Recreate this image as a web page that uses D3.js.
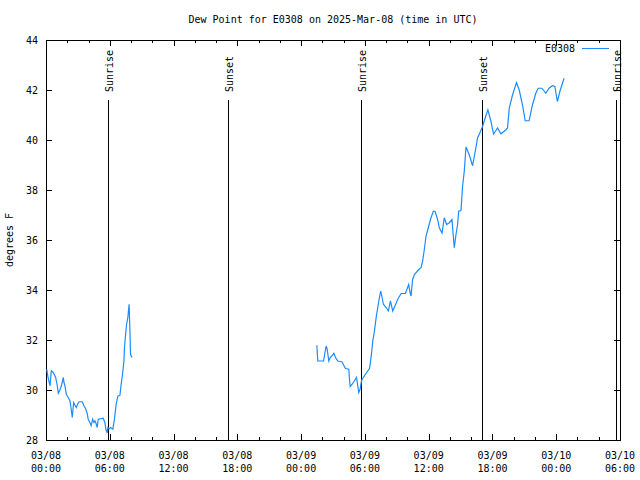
<!DOCTYPE html>
<html>
<head>
<meta charset="utf-8">
<script src="https://cdn.jsdelivr.net/npm/d3@7"></script>
<style>
  html, body { margin: 0; padding: 0; background: #fff; }
  svg { display: block; }
  text { font-family: "DejaVu Sans Mono", "Liberation Mono", monospace; font-size: 10px; fill: #000; }
</style>
</head>
<body>
<svg id="chart" width="640" height="480"></svg>
<script>
// ---- data (hours since 2025-03-08 00:00 UTC, dew point °F) ----
const titleText = "Dew Point for E0308 on 2025-Mar-08 (time in UTC)";
const seriesName = "E0308";
const yLabel = "degrees F";

const hours1 = [0.07,0.19,0.38,0.5,0.69,0.91,1.06,1.16,1.31,1.47,1.63,1.69,1.78,1.91,2.09,2.25,2.38,2.47,2.6,2.72,2.85,2.94,3.1,3.41,3.57,3.73,3.88,3.97,4.13,4.25,4.38,4.51,4.6,4.72,4.82,4.91,5.38,5.54,5.63,5.76,5.82,5.95,6.08,6.29,6.45,6.6,6.76,6.95,7.07,7.2,7.33,7.39,7.49,7.58,7.7,7.77,7.82,7.89,7.95,8.1];
const dew1 = [30.83,30.5,30.17,30.77,30.7,30.5,30.17,29.87,30.0,30.2,30.5,30.3,30.17,29.83,29.7,29.57,29.2,28.9,29.5,29.4,29.3,29.4,29.53,29.53,29.37,29.25,29.05,28.83,28.7,28.57,28.83,28.7,28.77,28.65,28.5,28.83,28.87,28.7,28.43,28.28,28.5,28.45,28.5,28.43,28.87,29.43,29.76,29.78,30.23,30.63,31.16,31.76,32.23,32.63,32.9,33.22,33.43,32.43,31.43,31.3];

const hours2 = [25.48,25.57,26.11,26.27,26.36,26.45,26.61,26.74,26.89,27.08,27.24,27.45,27.86,28.01,28.17,28.49,28.55,28.62,28.8,29.02,29.21,29.33,29.42,29.55,29.65,29.74,29.96,30.17,30.43,30.52,30.65,30.74,30.9,31.06,31.21,31.37,31.49,31.62,31.74,32.0,32.21,32.4,32.62,32.87,33.09,33.41,33.81,34.12,34.25,34.34,34.49,34.66,35.06,35.28,35.43,35.59,35.75,36.0,36.22,36.44,36.6,36.84,37.0,37.26,37.47,37.69,37.94,38.19,38.41,38.57,38.72,38.82,39.04,39.19,39.35,39.51,39.82,40.13,40.38,40.6,40.83,41.07,41.32,41.57,41.86,42.1,42.33,42.48,42.8,43.27,43.42,43.58,43.89,44.26,44.52,44.83,45.08,45.45,45.76,46.08,46.3,46.65,47.02,47.33,47.64,47.87,48.11,48.34,48.74];
const dew2 = [31.79,31.16,31.16,31.56,31.76,31.63,31.16,31.3,31.36,31.47,31.3,31.16,31.12,30.99,30.86,30.83,30.43,30.14,30.23,30.37,30.5,30.17,29.9,30.03,30.3,30.43,30.57,30.7,30.86,31.1,31.56,31.96,32.36,32.9,33.3,33.7,33.96,33.7,33.43,33.3,33.16,33.56,33.16,33.4,33.63,33.86,33.86,34.22,33.9,33.76,34.42,34.62,34.82,34.89,35.15,35.62,36.15,36.55,36.89,37.15,37.15,36.82,36.49,36.28,36.89,36.62,36.69,36.82,35.69,36.22,36.62,37.15,37.18,38.15,38.75,39.72,39.41,38.97,39.54,40.08,40.3,40.54,40.89,41.21,40.74,40.24,40.38,40.48,40.25,40.41,40.48,41.28,41.8,42.3,42.0,41.4,40.77,40.77,41.4,41.87,42.07,42.07,41.87,42.07,42.17,42.14,41.54,41.94,42.47];

const sunEvents = ["Sunrise","Sunset","Sunrise","Sunset","Sunrise"];
const sunHours = [5.82, 17.1, 29.68, 41.05, 53.62];

const yTicks = [28,30,32,34,36,38,40,42,44];
const xMajorHours = [0,6,12,18,24,30,36,42,48,54];
const xTickDates = ["03/08","03/08","03/08","03/08","03/09","03/09","03/09","03/09","03/10","03/10"];
const xTickTimes = ["00:00","06:00","12:00","18:00","00:00","06:00","12:00","18:00","00:00","06:00"];
const xMinorHours = d3.range(0, 55, 2);

// ---- layout ----
const L = 46, R = 620, T = 40, B = 440;
const lineColor = "#1a8cff";
const svg = d3.select("#chart");

const x = d3.scaleLinear().domain([0, 54]).range([L, R]);
const y = d3.scaleLinear().domain([28, 44]).range([B, T]);

// title
svg.append("text").attr("x", 333).attr("y", 23).attr("text-anchor", "middle").text(titleText);

// y label
svg.append("text").attr("transform", "translate(13,240) rotate(-90)")
  .attr("text-anchor", "middle").text(yLabel);

const g = svg.append("g").attr("shape-rendering", "crispEdges");

// axes via d3 axis generators (ticks pointing inward)
const fmtIdx = h => xMajorHours.indexOf(h);
const xAxisB = d3.axisBottom(x).tickValues(xMajorHours).tickSize(-6).tickFormat("");
const xAxisT = d3.axisTop(x).tickValues(xMajorHours).tickSize(-6).tickFormat("");
const xMinB = d3.axisBottom(x).tickValues(xMinorHours).tickSize(-3).tickFormat("");
const xMinT = d3.axisTop(x).tickValues(xMinorHours).tickSize(-3).tickFormat("");
const yAxisL = d3.axisLeft(y).tickValues(yTicks).tickSize(-6).tickFormat("");
const yAxisR = d3.axisRight(y).tickValues(yTicks).tickSize(-6).tickFormat("");

[[xAxisB, `translate(0,${B})`], [xMinB, `translate(0,${B})`], [xAxisT, `translate(0,${T})`], [xMinT, `translate(0,${T})`],
 [yAxisL, `translate(${L},0)`], [yAxisR, `translate(${R},0)`]].forEach(([ax, tr]) => {
  const a = g.append("g").attr("transform", tr).call(ax);
  a.select(".domain").remove();
  a.selectAll("line").attr("stroke", "#000");
});

// frame
g.append("rect").attr("x", L).attr("y", T).attr("width", R - L).attr("height", B - T)
  .attr("fill", "none").attr("stroke", "#000");

// y tick labels
svg.append("g").selectAll("text").data(yTicks).join("text")
  .attr("x", L - 8).attr("y", d => y(d) + 4).attr("text-anchor", "end").text(d => d);

// x tick labels
const xl = svg.append("g").selectAll("g").data(xMajorHours).join("g");
xl.append("text").attr("x", d => x(d)).attr("y", 459).attr("text-anchor", "middle").text((d, i) => xTickDates[i]);
xl.append("text").attr("x", d => x(d)).attr("y", 472).attr("text-anchor", "middle").text((d, i) => xTickTimes[i]);

// sunrise / sunset markers
const sg = svg.append("g");
sunHours.forEach((h, i) => {
  const px = Math.round(x(h)) + 0.5;
  sg.append("line").attr("x1", px).attr("x2", px).attr("y1", 100).attr("y2", B)
    .attr("stroke", "#000").attr("shape-rendering", "crispEdges");
  sg.append("text").attr("transform", `translate(${px + 4},92) rotate(-90)`).text(sunEvents[i]);
});

// data lines
const line = d3.line().x(d => x(d[0])).y(d => y(d[1]));
[[hours1, dew1], [hours2, dew2]].forEach(([hs, vs]) => {
  svg.append("path").datum(hs.map((h, i) => [h, vs[i]]))
    .attr("fill", "none").attr("stroke", lineColor).attr("stroke-width", 1.2).attr("d", line);
});

// legend
svg.append("text").attr("x", 575).attr("y", 52).attr("text-anchor", "end").text(seriesName);
svg.append("line").attr("x1", 582).attr("x2", 609).attr("y1", 48.5).attr("y2", 48.5)
  .attr("stroke", lineColor).attr("shape-rendering", "crispEdges");
</script>
</body>
</html>
